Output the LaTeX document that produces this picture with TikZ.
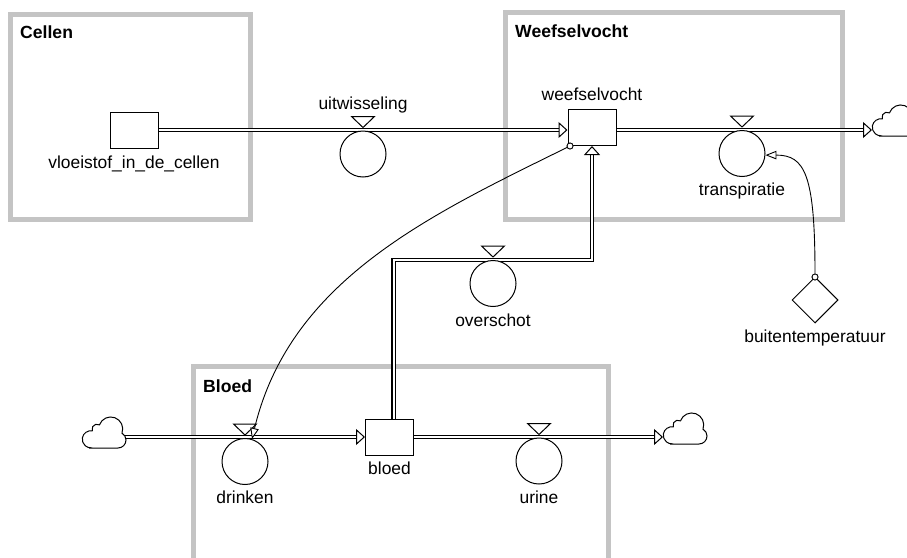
\documentclass[tikz,border=0pt]{standalone}
\usepackage{fontspec}
\setmainfont{Liberation Sans}
\usetikzlibrary{arrows.meta,shapes.geometric,calc}
\definecolor{regiongray}{HTML}{C4C4C4}
\begin{document}
\begin{tikzpicture}[x=1pt,y=1pt,
  txt/.style={font=\fontsize{17.4}{20}\selectfont, anchor=base, inner sep=0pt},
  regiontitle/.style={font=\fontsize{17.6}{20}\selectfont\bfseries, anchor=base west, inner sep=0pt},
  region/.style={draw=regiongray, line width=5pt},
  stock/.style={draw, line width=1pt, rectangle, minimum width=48pt, minimum height=36pt, inner sep=0pt, fill=white},
  valve/.style={draw, circle, line width=1pt, minimum size=46pt, inner sep=0pt, fill=white},
  aux/.style={draw, diamond, line width=1pt, minimum size=46pt, aspect=1, inner sep=0pt, fill=white},
  pipe/.style={line width=1.1pt, double=white, double distance=2pt, line join=miter},
  pipeend/.style={-{Triangle[fill=white, length=9pt, width=16pt, line width=1pt]}},
  link/.style={draw, line width=0.9pt, -{Triangle[fill=white, length=11pt, width=8.5pt, line width=0.9pt]}},
  dot/.style={draw, circle, line width=0.8pt, minimum size=6pt, inner sep=0pt, fill=white},
  valvecap/.pic={\draw[line width=1pt, fill=white] (0,3) -- (-11.5,14) -- (11.5,14) -- cycle;},
  cloudpic/.pic={\draw[line width=1pt, fill=white]
      (7,-11) -- (36,-11)
      arc[start angle=-90, end angle=60, radius=8]
      arc[start angle=-20, end angle=160, radius=12]
      arc[start angle=60, end angle=200, radius=5]
      arc[start angle=80, end angle=270, radius=8.5] -- cycle;},
]
\useasboundingbox (0,0) rectangle (907,-557);

% sector frames
\draw[region] (10.7,-14) rectangle (250.5,-219.5);
\draw[region] (505.5,-12.5) rectangle (842.5,-219.5);
\draw[region] (193.5,-580) -- (193.5,-366.5) -- (608.5,-366.5) -- (608.5,-580);
\node[regiontitle] (tCellen) at (20,-38) {Cellen};
\node[regiontitle] (tWeefsel) at (515,-37) {Weefselvocht};
\node[regiontitle] (tBloed) at (203,-392) {Bloed};

% stocks
\node[stock] (s1) at (134,-130) {};
\node[stock] (s2) at (592,-127.5) {};
\node[stock] (s3) at (389.5,-437) {};

% cloud sources and sinks
\coordinate (cl1) at (125,-437);
\coordinate (cl2) at (872,-130);
\coordinate (cl3) at (663,-437);

% flow pipes
\coordinate (f1) at (s1.east -| s2.west);
\coordinate (ov1) at (393.5,-260);
\coordinate (ov2) at (592,-260);
\draw[pipe, pipeend] (s1.east) -- (f1);
\draw[pipe, pipeend] (f1 -| s2.east) -- (cl2);
\draw[pipe, pipeend] (s3.north -| ov1) -- (ov1) -- (ov2) -- (s2.south);
\draw[pipe, pipeend] (cl1) -- (s3.west);
\draw[pipe, pipeend] (s3.east) -- (cl3);

% clouds
\pic at (82,-437) {cloudpic};
\pic at (872,-125) {cloudpic};
\pic at (663,-433) {cloudpic};

% valves
\node[valve] (v1) at (363,-154) {};
\node[valve] (v2) at (742,-153.5) {};
\node[valve] (v3) at (493,-283.5) {};
\node[valve] (v4) at (245,-461.5) {};
\node[valve] (v5) at (539,-461) {};
\foreach \v in {v1,v2,v3,v4,v5} \pic at (\v.north) {valvecap};

% auxiliary
\node[aux] (a1) at (815,-300) {};

% information links
\node[dot] (d1) at (570,-146) {};
\coordinate (v4in) at (252,-439);
\draw[link] (d1) .. controls (430,-215) and (290,-280) .. (v4in);
\node[dot] at (d1) {};
\node[dot] (d2) at (815,-277) {};
\draw[link] (d2) .. controls (815,-175) and (805,-155) .. (v2.-4);
\node[dot] at (d2) {};

% names
\node[txt] (n1) at (134,-168) {vloeistof\_in\_de\_cellen};
\node[txt] (n2) at (592,-100) {weefselvocht};
\node[txt] (n3) at (389.5,-474) {bloed};
\node[txt] (n4) at (363,-109) {uitwisseling};
\node[txt] (n5) at (742,-195) {transpiratie};
\node[txt] (n6) at (493,-326) {overschot};
\node[txt] (n7) at (245,-503) {drinken};
\node[txt] (n8) at (539,-503) {urine};
\node[txt] (n9) at (815,-342) {buitentemperatuur};
\end{tikzpicture}
\end{document}
